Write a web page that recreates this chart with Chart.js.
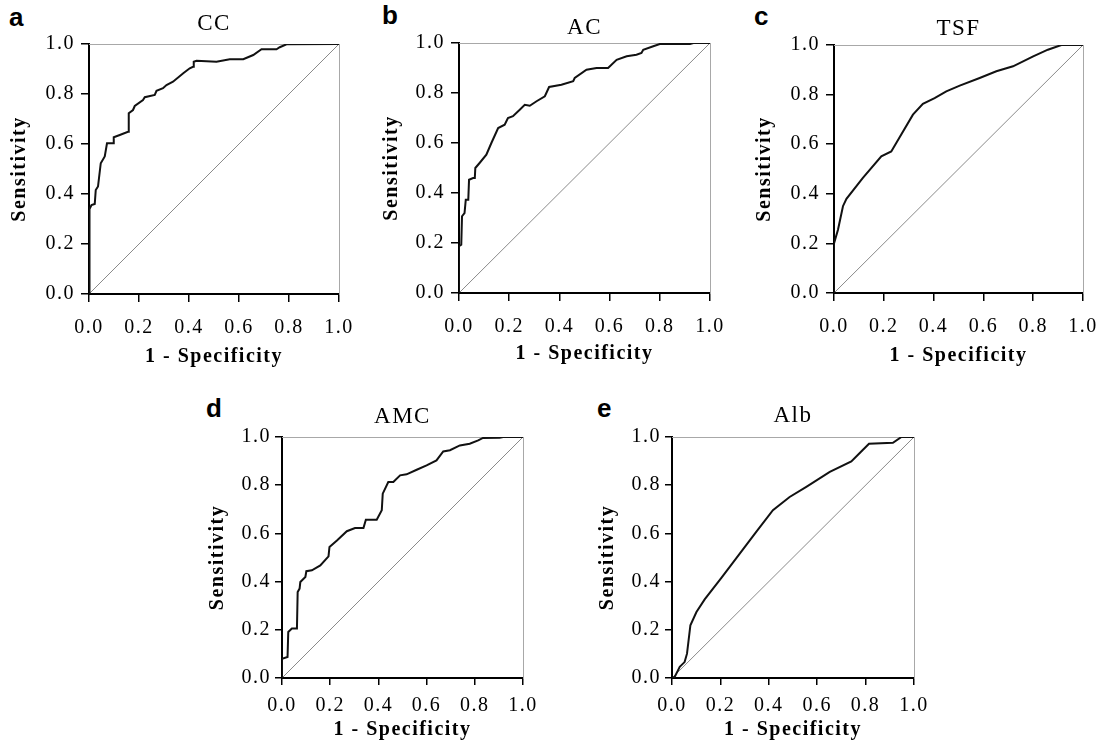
<!DOCTYPE html>
<html>
<head>
<meta charset="utf-8">
<script src="https://cdn.jsdelivr.net/npm/chart.js@4"></script>
<style>
  html, body { margin: 0; padding: 0; background: #fff; overflow: hidden; width: 1101px; height: 745px; }
  canvas { position: absolute; }
  .tag { position: absolute; font: bold 26px "Liberation Sans", Arial, sans-serif; line-height: 1; color: #000; }
</style>
</head>
<body>
<div class="tag" style="left:9px;top:4px">a</div>
<div class="tag" style="left:382px;top:2px">b</div>
<div class="tag" style="left:754px;top:3px">c</div>
<div class="tag" style="left:206px;top:395px">d</div>
<div class="tag" style="left:597px;top:395px">e</div>

<canvas id="chartA"></canvas>
<canvas id="chartB"></canvas>
<canvas id="chartC"></canvas>
<canvas id="chartD"></canvas>
<canvas id="chartE"></canvas>

<script>
// ROC curves (x = 1 - specificity, y = sensitivity)
const ccX = [0, 0.002, 0.01, 0.023, 0.027, 0.036, 0.047, 0.063, 0.072, 0.096, 0.099, 0.123, 0.156, 0.159, 0.176, 0.183, 0.216, 0.223, 0.263, 0.27, 0.296, 0.31, 0.336, 0.377, 0.403, 0.416, 0.419, 0.43, 0.51, 0.563, 0.617, 0.657, 0.69, 0.75, 0.763, 0.79, 1];
const ccY = [0, 0.34, 0.356, 0.36, 0.416, 0.43, 0.523, 0.55, 0.603, 0.603, 0.627, 0.636, 0.649, 0.723, 0.736, 0.752, 0.776, 0.787, 0.796, 0.813, 0.823, 0.836, 0.849, 0.883, 0.903, 0.909, 0.929, 0.933, 0.929, 0.939, 0.939, 0.956, 0.979, 0.979, 0.987, 0.999, 1];

const acX = [0, 0, 0.009, 0.012, 0.022, 0.027, 0.037, 0.04, 0.056, 0.063, 0.065, 0.082, 0.109, 0.129, 0.156, 0.182, 0.195, 0.215, 0.242, 0.262, 0.282, 0.309, 0.342, 0.359, 0.408, 0.455, 0.461, 0.508, 0.548, 0.594, 0.628, 0.668, 0.707, 0.727, 0.734, 0.774, 0.8, 0.92, 0.934, 1];
const acY = [0, 0.187, 0.193, 0.307, 0.32, 0.373, 0.373, 0.453, 0.46, 0.46, 0.5, 0.52, 0.553, 0.6, 0.66, 0.673, 0.7, 0.707, 0.733, 0.753, 0.749, 0.767, 0.787, 0.824, 0.833, 0.847, 0.86, 0.893, 0.9, 0.9, 0.933, 0.947, 0.953, 0.96, 0.973, 0.987, 0.996, 0.996, 1, 1];

const tsfX = [0, 0, 0.016, 0.036, 0.05, 0.116, 0.19, 0.23, 0.25, 0.317, 0.357, 0.404, 0.451, 0.505, 0.585, 0.652, 0.719, 0.8, 0.859, 0.913, 1];
const tsfY = [0, 0.2, 0.255, 0.35, 0.38, 0.464, 0.551, 0.571, 0.605, 0.719, 0.763, 0.786, 0.813, 0.836, 0.867, 0.894, 0.914, 0.954, 0.981, 1, 1];

const amcX = [0, 0, 0.023, 0.026, 0.041, 0.062, 0.065, 0.073, 0.076, 0.097, 0.101, 0.124, 0.159, 0.193, 0.197, 0.228, 0.269, 0.303, 0.338, 0.348, 0.393, 0.414, 0.418, 0.441, 0.462, 0.49, 0.517, 0.559, 0.6, 0.641, 0.669, 0.697, 0.738, 0.779, 0.814, 0.834, 0.903, 0.917, 1];
const amcY = [0, 0.08, 0.087, 0.191, 0.205, 0.205, 0.357, 0.371, 0.398, 0.419, 0.443, 0.447, 0.467, 0.505, 0.544, 0.571, 0.609, 0.622, 0.622, 0.657, 0.657, 0.696, 0.765, 0.813, 0.813, 0.841, 0.845, 0.864, 0.882, 0.903, 0.94, 0.945, 0.965, 0.972, 0.986, 0.996, 0.997, 1, 1];

const albX = [0, 0.011, 0.032, 0.052, 0.062, 0.076, 0.101, 0.135, 0.204, 0.28, 0.348, 0.417, 0.486, 0.555, 0.652, 0.741, 0.782, 0.814, 0.913, 0.948, 1];
const albY = [0, 0.004, 0.046, 0.066, 0.101, 0.219, 0.274, 0.326, 0.415, 0.516, 0.606, 0.696, 0.751, 0.793, 0.855, 0.899, 0.94, 0.972, 0.976, 1, 1];

const refX = [0, 1];
const refY = [0, 1];
const tickStep = 0.2;

// plot boxes in page pixels and label offsets
const panels = [
  { id: "chartA", title: "CC",  x: ccX,  y: ccY,  L: 89,  R: 339, T: 44, B: 294, top: 0,   h: 375, titleX: 20,    tPad: 10, xTitlePad: 6, xTickPad: 14, yTickPad: 6, tick: 8 },
  { id: "chartB", title: "AC",  x: acX,  y: acY,  L: 459, R: 710, T: 43, B: 293, top: 0,   h: 375, titleX: 391.5, tPad: 14, xTitlePad: 9, xTickPad: 14, yTickPad: 6, tick: 8 },
  { id: "chartC", title: "TSF", x: tsfX, y: tsfY, L: 834, R: 1083, T: 45, B: 293, top: 0,  h: 375, titleX: 764.5, tPad: 15, xTitlePad: 7, xTickPad: 14, yTickPad: 6, tick: 8 },
  { id: "chartD", title: "AMC", x: amcX, y: amcY, L: 282, R: 523, T: 437, B: 678, top: 380, h: 365, titleX: 217.5, tPad: 23, xTitlePad: 3, xTickPad: 9, yTickPad: 4, tick: 7 },
  { id: "chartE", title: "Alb", x: albX, y: albY, L: 672, R: 914, T: 437, B: 678, top: 380, h: 365, titleX: 607.5, tPad: 22, xTitlePad: 3, xTickPad: 9, yTickPad: 4, tick: 7 }
];

const SIDE = 100;
const serif = "'Liberation Serif', 'Times New Roman', serif";
Chart.defaults.font.family = serif;
Chart.defaults.color = "#000";

const spacing = {
  id: "spacing",
  beforeUpdate(chart) { chart.ctx.letterSpacing = "1.5px"; },
  beforeDraw(chart) { chart.ctx.letterSpacing = "1.5px"; }
};

function pts(xs, ys) {
  return xs.map((v, i) => ({ x: v, y: ys[i] }));
}

panels.forEach((p) => {
  const cv = document.getElementById(p.id);
  const w = (p.R - p.L) + 2 * SIDE;
  const left = p.L - SIDE;
  cv.width = w;
  cv.height = p.h;
  cv.style.left = left + "px";
  cv.style.top = p.top + "px";

  const titleFont = 23;
  const titleLH = titleFont * 1.2;
  const titleTop = p.tPad;
  const topAxisH = (p.T - p.top) - (titleTop + titleLH);

  const mainGrid = { display: true, drawOnChartArea: false, drawTicks: true, tickLength: p.tick, color: "#000", lineWidth: 1.5 };
  const mainBorder = { display: true, color: "#000", width: 2 };

  new Chart(cv, {
    type: "line",
    data: {
      datasets: [
        { data: pts(p.x, p.y), borderColor: "#111", borderWidth: 2, pointRadius: 0, tension: 0, fill: false, order: 0 },
        { data: pts(refX, refY), borderColor: "#8a8a8a", borderWidth: 1, pointRadius: 0, tension: 0, fill: false, order: 1 }
      ]
    },
    options: {
      responsive: false,
      animation: false,
      devicePixelRatio: 1,
      layout: { padding: 0 },
      plugins: {
        legend: { display: false },
        tooltip: { enabled: false },
        title: {
          display: true,
          text: p.title,
          font: { size: titleFont, weight: "normal", family: serif },
          color: "#000",
          padding: { top: titleTop, bottom: 0 }
        }
      },
      scales: {
        x: {
          type: "linear", position: "bottom", min: 0, max: 1,
          grid: mainGrid, border: mainBorder,
          ticks: { stepSize: tickStep, padding: p.xTickPad, font: { size: 20 }, callback: (v) => v.toFixed(1), maxRotation: 0 },
          title: { display: true, text: "1 - Specificity", font: { size: 20, weight: "bold" }, padding: { top: 0, bottom: p.xTitlePad } },
          afterFit: (s) => { s.height = p.top + p.h - p.B; s.paddingLeft = 0; s.paddingRight = 0; }
        },
        y: {
          type: "linear", position: "left", min: 0, max: 1,
          grid: mainGrid, border: mainBorder,
          ticks: { stepSize: tickStep, padding: p.yTickPad, font: { size: 20 }, callback: (v) => v.toFixed(1) },
          title: { display: true, text: "Sensitivity", font: { size: 20, weight: "bold" }, padding: { top: p.titleX - left - 12, bottom: 0 } },
          afterFit: (s) => { s.width = SIDE; s.paddingTop = 0; s.paddingBottom = 0; }
        },
        x2: {
          type: "linear", axis: "x", position: "top", min: 0, max: 1,
          grid: { display: false }, ticks: { display: false },
          border: { display: true, color: "#a8a8a8", width: 1 },
          afterFit: (s) => { s.height = topAxisH; }
        },
        y2: {
          type: "linear", axis: "y", position: "right", min: 0, max: 1,
          grid: { display: false }, ticks: { display: false },
          border: { display: true, color: "#a8a8a8", width: 1 },
          afterFit: (s) => { s.width = SIDE; }
        }
      }
    },
    plugins: [spacing]
  });
});
</script>
</body>
</html>
